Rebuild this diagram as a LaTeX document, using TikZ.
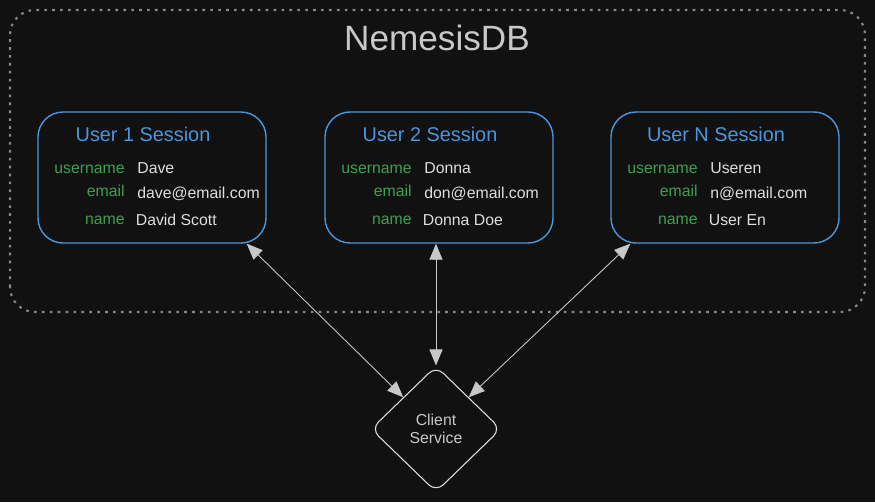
\documentclass[tikz,border=0pt]{standalone}
\usepackage{fontspec}
\setmainfont{Liberation Sans}
\usepackage{xcolor}
\usetikzlibrary{shapes.geometric, arrows.meta, positioning}
\definecolor{bgdark}{RGB}{17, 17, 17}
\definecolor{sessblue}{RGB}{74, 150, 222}
\definecolor{keygreen}{RGB}{60, 160, 80}
\definecolor{valgray}{RGB}{222, 222, 222}
\definecolor{titlegray}{RGB}{200, 200, 200}
\definecolor{dotgray}{RGB}{136, 136, 136}
\definecolor{linkgray}{RGB}{200, 200, 200}
\tikzset{
    session/.style={
        rectangle, rounded corners=0.5cm, minimum width=4.56cm, minimum height=2.62cm,
        draw=sessblue, line width=0.8pt
    },
    sesstitle/.style={text=sessblue, font=\fontsize{11.3}{13}\selectfont},
    key/.style={anchor=base east, inner sep=0pt, text=keygreen, font=\fontsize{9}{11}\selectfont},
    val/.style={anchor=base west, inner sep=0pt, text=valgray, font=\fontsize{9}{11}\selectfont},
    service/.style={
        diamond, minimum width=2.6cm, minimum height=2.52cm, inner sep=0pt,
        rounded corners=0.2cm, draw=valgray, line width=0.6pt,
        text=titlegray, align=center, font=\fontsize{9}{10.2}\selectfont
    },
    link/.style={{Triangle[length=0.32cm, width=0.26cm]}-{Triangle[length=0.32cm, width=0.26cm]},
        line width=0.5pt, color=linkgray},
}

\begin{document}
\begin{tikzpicture}
    \fill[bgdark] (0, 0) rectangle (17.5, 10.04);
    \useasboundingbox (0, 0) rectangle (17.5, 10.04);

    % outer database frame
    \draw[dotgray, line width=1.2pt, dash pattern=on 1.5pt off 3pt, rounded corners=0.5cm]
        (0.2, 3.8) rectangle (17.3, 9.84);
    \node[text=titlegray, font=\fontsize{20}{24}\selectfont] (db) at (8.74, 9.28) {NemesisDB};

    % sessions
    \node[session] (sess1) at (3.04, 6.49) {};
    \node[session] (sess2) at (8.78, 6.49) {};
    \node[session] (sessN) at (14.5, 6.49) {};

    \node[sesstitle] (t1) at (2.86, 7.36) {User 1 Session};
    \node[key] (k1a) at (2.50, 6.57) {username};
    \node[val] (v1a) at (2.74, 6.57) {Dave};
    \node[key] (k1b) at (2.50, 6.11) {email};
    \node[val] (v1b) at (2.74, 6.06) {dave@email.com};
    \node[key] (k1c) at (2.50, 5.55) {name};
    \node[val] (v1c) at (2.71, 5.53) {David Scott};

    \node[sesstitle] (t2) at (8.60, 7.36) {User 2 Session};
    \node[key] (k2a) at (8.24, 6.57) {username};
    \node[val] (v2a) at (8.48, 6.57) {Donna};
    \node[key] (k2b) at (8.24, 6.11) {email};
    \node[val] (v2b) at (8.48, 6.06) {don@email.com};
    \node[key] (k2c) at (8.24, 5.55) {name};
    \node[val] (v2c) at (8.45, 5.53) {Donna Doe};

    \node[sesstitle] (tN) at (14.32, 7.36) {User N Session};
    \node[key] (kNa) at (13.96, 6.57) {username};
    \node[val] (vNa) at (14.20, 6.57) {Useren};
    \node[key] (kNb) at (13.96, 6.11) {email};
    \node[val] (vNb) at (14.20, 6.06) {n@email.com};
    \node[key] (kNc) at (13.96, 5.55) {name};
    \node[val] (vNc) at (14.17, 5.53) {User En};

    % client
    \node[service] (client) at (8.72, 1.46) {Client\\Service};

    \draw[link] ([xshift=-0.4cm]sess1.south east) -- (client.north west);
    \draw[link] (sess2.south -| client.north) -- (client.north);
    \draw[link] ([xshift=0.4cm]sessN.south west) -- (client.north east);
\end{tikzpicture}
\end{document}
